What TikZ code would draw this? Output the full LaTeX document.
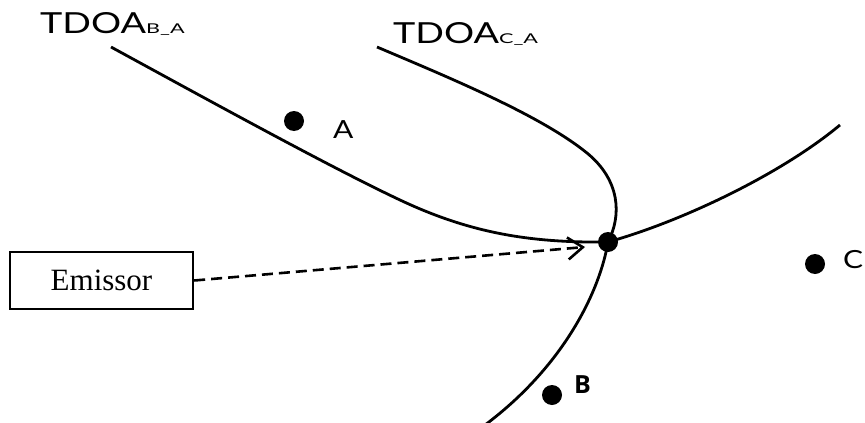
\documentclass[tikz,border=0pt]{standalone}
\usepackage{fontspec}
\setmainfont{Liberation Serif}
\newfontfamily\gill{Lato}
\newfontfamily\bfont{Open Sans}
\usetikzlibrary{arrows.meta}
\begin{document}
\begin{tikzpicture}[x=1pt,y=-1pt,
  curve/.style={line width=2.8pt},
  dot/.style={circle,fill=black,inner sep=0pt,minimum size=20pt},
  lbl/.style={inner sep=0pt,anchor=base west,font=\gill\fontsize{29}{29}\selectfont},
  small/.style={inner sep=0pt,anchor=base west,font=\gill\fontsize{25}{25}\selectfont},
  box/.style={draw,line width=2.4pt,minimum width=183pt,minimum height=57pt,inner sep=0pt,
    font=\fontsize{31}{31}\selectfont}]
\useasboundingbox (0,0) rectangle (865,423);
% points
\node[dot] (em) at (608,242) {};
\node[dot] (pa) at (294,121) {};
\node[dot] (pb) at (552,395) {};
\node[dot] (pc) at (815,264) {};
% hyperbolas
\draw[curve] (111,47) .. controls (210,101) and (330,167) .. (400,200)
  .. controls (470,233) and (530,243) .. (em.center)
  .. controls (680,222) and (780,175) .. (840,125);
\draw[curve] (377,47) .. controls (450,78) and (540,115) .. (587,153)
  .. controls (620,180) and (622,215) .. (em.center)
  .. controls (600,290) and (565,365) .. (485,425);
% labels
\node[lbl] (tba) at (40,33) {\scalebox{1.3}[1]{TDOA}\scalebox{1.6}[1]{\fontsize{13.5}{13.5}\selectfont B\_A}};
\node[lbl] (tca) at (393,43) {\scalebox{1.3}[1]{TDOA}\scalebox{1.6}[1]{\fontsize{13.5}{13.5}\selectfont C\_A}};
\node[small] (la) at (333,138) {\scalebox{1.2}[1]{A}};
\node[inner sep=0pt,anchor=base west,font=\bfont\bfseries\fontsize{25}{25}\selectfont] (lb) at (574,393) {B};
\node[small] (lc) at (843,268) {\scalebox{1.2}[1]{C}};
% emissor
\node[box] (emissor) at (101.5,280.5) {Emissor};
\coordinate (tip) at (585,247);
\draw[line width=2.6pt,dash pattern=on 11pt off 6pt,-{Straight Barb[length=15pt,width=22pt,line width=2.6pt]}] (emissor.east) -- (tip);
\end{tikzpicture}
\end{document}
